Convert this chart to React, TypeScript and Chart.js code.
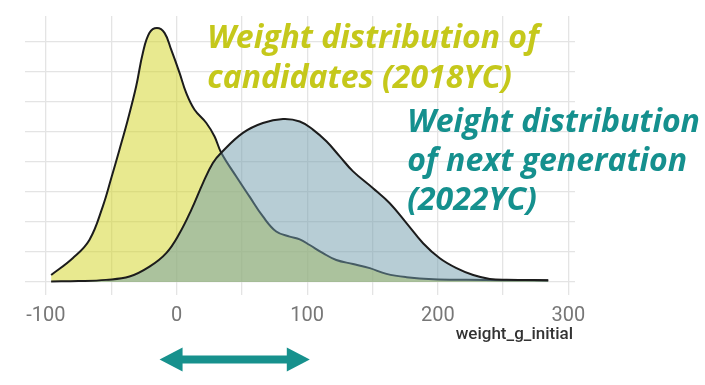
import React, { useEffect, useRef } from "react";
import { Chart, registerables } from "chart.js";

Chart.register(...registerables);

// ---- data ----
const xTickValues = [-100, -50, 0, 50, 100, 150, 200, 250, 300];
const xLabelValues = [-100, 0, 100, 200, 300];
const yGridValues = [0, 1, 2, 3, 4, 5, 6, 7, 8];

const candidatesX = [-96, -79.5, -66.7, -56.5, -50, -43.7, -37.3, -30.9, -25.8, -20.7, -15, -9.2, -4.1, 2.3, 7.4, 13.8, 22.8, 29.1, 34.2, 45.7, 55.9, 66.1, 76.3, 86.6, 94.3, 101.9, 112.1, 122.3, 135.1, 147.9, 160.7, 176, 196.4, 222, 250, 284.5];
const candidatesY = [0.23, 0.79, 1.4, 2.51, 3.45, 4.4, 5.4, 6.51, 7.62, 8.29, 8.45, 8.29, 7.73, 6.96, 6.29, 5.73, 5.29, 4.84, 4.3, 3.51, 2.84, 2.18, 1.68, 1.51, 1.42, 1.23, 0.96, 0.73, 0.6, 0.46, 0.27, 0.16, 0.09, 0.07, 0.06, 0.05];

const nextGenX = [-96, -75, -54, -36, -20.7, -7.9, 2.3, 11.3, 20.2, 27.8, 34.2, 50.8, 66.1, 81.5, 94.3, 104.4, 114.7, 124.9, 135.1, 150.4, 163.2, 176, 188.7, 201.5, 214.3, 227.1, 239.8, 252.6, 284.5];
const nextGenY = [0.02, 0.03, 0.07, 0.18, 0.51, 0.96, 1.62, 2.4, 3.29, 3.96, 4.3, 4.96, 5.29, 5.42, 5.34, 5.07, 4.68, 4.18, 3.68, 3.12, 2.62, 1.96, 1.29, 0.79, 0.46, 0.23, 0.1, 0.07, 0.06];

const candidatesLabel = ["Weight distribution of", "candidates (2018YC)"];
const nextGenLabel = ["Weight distribution", "of next generation", "(2022YC)"];
const xAxisTitle = "weight_g_initial";
const arrowX = [-13, 102];

const toPoints = (xs: number[], ys: number[]) => xs.map((x, i) => ({ x, y: ys[i] }));

const overlayPlugin = {
  id: "overlay",
  afterDatasetsDraw(chart: any) {
    const { ctx, scales, chartArea } = chart;
    const xs = scales.x;
    const ys = scales.y;
    ctx.save();
    ctx.textBaseline = "alphabetic";
    ctx.textAlign = "left";
    ctx.font = 'italic bold 32px "Open Sans"';
    // candidates label
    ctx.fillStyle = "#c5c81b";
    const cx = xs.getPixelForValue(23.5);
    const cy = ys.getPixelForValue(7.79);
    candidatesLabel.forEach((t, i) => ctx.fillText(t, cx, cy + i * 40));
    // next generation label
    ctx.fillStyle = "#15908e";
    const nx = xs.getPixelForValue(176.5);
    const ny = ys.getPixelForValue(4.99);
    nextGenLabel.forEach((t, i) => ctx.fillText(t, nx, ny + i * 39));

    // axis title
    ctx.font = '500 17px Roboto';
    ctx.fillStyle = "#333333";
    ctx.textAlign = "right";
    ctx.fillText(xAxisTitle, chartArea.right - 2, chartArea.bottom + 44);

    // double arrow
    const ax0 = xs.getPixelForValue(arrowX[0]);
    const ax1 = xs.getPixelForValue(arrowX[1]);
    const ay = ys.getPixelForValue(-2.58);
    const head = 23;
    const hh = 12;
    const sh = 4;
    ctx.fillStyle = "#17918d";
    ctx.beginPath();
    ctx.moveTo(ax0, ay);
    ctx.lineTo(ax0 + head, ay - hh);
    ctx.lineTo(ax0 + head, ay - sh);
    ctx.lineTo(ax1 - head, ay - sh);
    ctx.lineTo(ax1 - head, ay - hh);
    ctx.lineTo(ax1, ay);
    ctx.lineTo(ax1 - head, ay + hh);
    ctx.lineTo(ax1 - head, ay + sh);
    ctx.lineTo(ax0 + head, ay + sh);
    ctx.lineTo(ax0 + head, ay + hh);
    ctx.closePath();
    ctx.fill();
    ctx.restore();
  },
};

export default function App() {
  const ref = useRef<HTMLCanvasElement | null>(null);
  useEffect(() => {
    if (!ref.current) return;
    const chart = new Chart(ref.current, {
      type: "line",
      data: {
        datasets: [
          {
            label: "candidates (2018YC)",
            data: toPoints(candidatesX, candidatesY),
            borderColor: "#1c1c1c",
            borderWidth: 2,
            backgroundColor: "rgba(209,211,31,0.5)",
            fill: "origin",
            pointRadius: 0,
            tension: 0.4,
            order: 2,
          },
          {
            label: "next generation (2022YC)",
            data: toPoints(nextGenX, nextGenY),
            borderColor: "#1c1c1c",
            borderWidth: 2,
            backgroundColor: "rgba(111,155,171,0.5)",
            fill: "origin",
            pointRadius: 0,
            tension: 0.4,
            order: 1,
          },
        ],
      },
      options: {
        animation: false,
        responsive: false,
        maintainAspectRatio: false,
        layout: { padding: { left: 25, right: 130, top: 16, bottom: 48.4 } },
        plugins: { legend: { display: false }, tooltip: { enabled: false } },
        scales: {
          x: {
            type: "linear",
            min: -116,
            max: 305,
            border: { display: false },
            grid: { color: "#e4e4e4", lineWidth: 1.3, drawTicks: false },
            afterBuildTicks: (axis: any) => {
              axis.ticks = xTickValues.map((v) => ({ value: v }));
            },
            ticks: {
              autoSkip: false,
              maxRotation: 0,
              padding: 9,
              color: "#777777",
              font: { family: "Roboto", size: 20 },
              callback: (v: any) => (xLabelValues.includes(Number(v)) ? String(v) : ""),
            },
          },
          y: {
            type: "linear",
            min: -0.42,
            max: 8.85,
            border: { display: false },
            grid: { color: "#e4e4e4", lineWidth: 1.3, drawTicks: false },
            afterBuildTicks: (axis: any) => {
              axis.ticks = yGridValues.map((v) => ({ value: v }));
            },
            ticks: { display: false },
          },
        },
      },
      plugins: [overlayPlugin],
    });
    return () => chart.destroy();
  }, []);
  return (
    <div style={{ position: "absolute", left: 0, top: 0, width: 705, height: 385, background: "#fff" }}>
      <canvas ref={ref} width={705} height={385} style={{ display: "block" }} />
    </div>
  );
}
